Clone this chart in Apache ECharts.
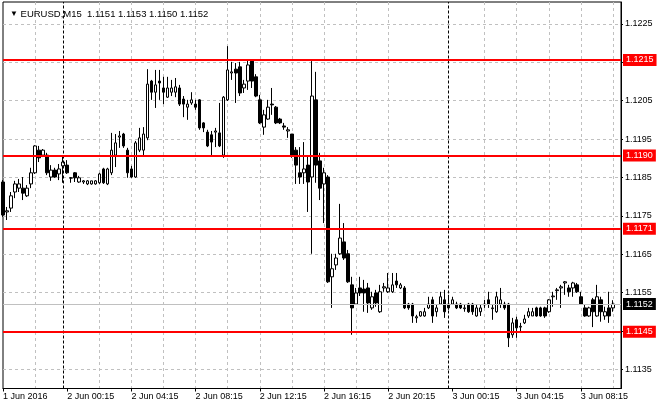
<!DOCTYPE html>
<html>
<head>
<meta charset="utf-8">
<script src="https://cdn.jsdelivr.net/npm/echarts@6/dist/echarts.min.js"></script>
<style>
  html, body { margin: 0; padding: 0; background: #fff; }
  #chart { width: 660px; height: 410px; }
</style>
</head>
<body>
<div id="chart"></div>
<script>
// EURUSD M15, 1 Jun 20:15 .. 3 Jun 10:15 (one value per bar)
const opens = [
  1.11838, 1.1176, 1.1177, 1.11812, 1.11822, 1.11822, 1.11802, 1.11833, 1.11862, 1.11921,
  1.11908, 1.11908, 1.11851, 1.11869, 1.11859, 1.1188, 1.11882, 1.11848, 1.11862, 1.11838,
  1.11838, 1.11833, 1.11833, 1.11833, 1.11836, 1.11872, 1.11833, 1.11862, 1.11908, 1.11955,
  1.11963, 1.11921, 1.11872, 1.11851, 1.11921, 1.11921, 1.11953, 1.12101, 1.12072, 1.12101,
  1.12083, 1.12059, 1.12072, 1.12072, 1.12083, 1.12054, 1.12033, 1.12044, 1.12041, 1.12052,
  1.11992, 1.11968, 1.11961, 1.11968, 1.11966, 1.11908, 1.12052, 1.12122, 1.12132, 1.12138,
  1.12083, 1.12101, 1.12153, 1.12112, 1.12052, 1.11981, 1.12002, 1.12041, 1.12033, 1.12002,
  1.11984, 1.11971, 1.11963, 1.11921, 1.11862, 1.11862, 1.11882, 1.11851, 1.12052, 1.11893,
  1.11833, 1.11851, 1.11591, 1.11622, 1.11651, 1.11682, 1.11651, 1.1157, 1.1152, 1.11562,
  1.11559, 1.11562, 1.1151, 1.11549, 1.115, 1.11562, 1.11552, 1.11552, 1.1158, 1.11562,
  1.11562, 1.1152, 1.1152, 1.11484, 1.11489, 1.11489, 1.1151, 1.11531, 1.115, 1.1152,
  1.11531, 1.1152, 1.1152, 1.1152, 1.1152, 1.11508, 1.1152, 1.1152, 1.11489, 1.115,
  1.11518, 1.11531, 1.11508, 1.115, 1.1152, 1.1152, 1.1152, 1.1144, 1.11479, 1.1146,
  1.11471, 1.11489, 1.11489, 1.1151, 1.1151, 1.1151, 1.115, 1.11539, 1.11555, 1.11562,
  1.11575, 1.11562, 1.11562, 1.1157, 1.11539, 1.1151, 1.11489, 1.11531, 1.11489, 1.11531,
  1.11489, 1.1151, 1.1151
];
const highs = [
  1.11843, 1.11773, 1.11812, 1.11841, 1.11846, 1.11851, 1.1183, 1.11875, 1.11934, 1.11932,
  1.11924, 1.11914, 1.11882, 1.11875, 1.11885, 1.11906, 1.11895, 1.11851, 1.11864, 1.11854,
  1.11843, 1.11843, 1.11841, 1.11843, 1.11862, 1.11875, 1.11875, 1.11966, 1.11963, 1.11971,
  1.11966, 1.11927, 1.1188, 1.11945, 1.11979, 1.11981, 1.12132, 1.12104, 1.1213, 1.1213,
  1.12112, 1.12112, 1.12104, 1.12109, 1.12091, 1.12062, 1.12052, 1.12072, 1.12052, 1.12054,
  1.11994, 1.11974, 1.11971, 1.11979, 1.12044, 1.12062, 1.12192, 1.12151, 1.12148, 1.12151,
  1.12104, 1.12156, 1.12156, 1.12119, 1.12065, 1.12026, 1.12052, 1.12083, 1.12036, 1.12005,
  1.11992, 1.11981, 1.11963, 1.11929, 1.11929, 1.11942, 1.11908, 1.12153, 1.12125, 1.11914,
  1.11875, 1.11856, 1.11651, 1.11651, 1.11781, 1.11731, 1.11661, 1.11591, 1.11562, 1.11591,
  1.11583, 1.11575, 1.11552, 1.11557, 1.1157, 1.11575, 1.11601, 1.11601, 1.11601, 1.11575,
  1.11567, 1.11523, 1.11523, 1.11492, 1.11502, 1.1151, 1.11539, 1.11539, 1.1152, 1.11552,
  1.11557, 1.11544, 1.11539, 1.11526, 1.11523, 1.1152, 1.11523, 1.11523, 1.11518, 1.11518,
  1.11531, 1.11552, 1.1152, 1.11552, 1.11562, 1.11526, 1.11523, 1.11484, 1.11487, 1.11471,
  1.11492, 1.1151, 1.1151, 1.11513, 1.11513, 1.11513, 1.11533, 1.11552, 1.11562, 1.1157,
  1.1158, 1.1157, 1.11578, 1.11575, 1.11552, 1.11518, 1.11513, 1.11536, 1.1157, 1.11539,
  1.11513, 1.11552, 1.1153
];
const lows = [
  1.11747, 1.11739, 1.1176, 1.11796, 1.11812, 1.11791, 1.11799, 1.11822, 1.11859, 1.1189,
  1.11903, 1.11856, 1.11841, 1.11849, 1.11843, 1.11836, 1.11859, 1.11836, 1.11838, 1.11836,
  1.11833, 1.1183, 1.11831, 1.11831, 1.11833, 1.11833, 1.1183, 1.11856, 1.11877, 1.11927,
  1.11927, 1.11849, 1.11849, 1.11849, 1.11916, 1.11908, 1.11947, 1.12052, 1.12031, 1.12052,
  1.12041, 1.12057, 1.12062, 1.12059, 1.12036, 1.12007, 1.12, 1.12039, 1.12026, 1.11974,
  1.11968, 1.11929, 1.11908, 1.11929, 1.11929, 1.11901, 1.12049, 1.12104, 1.12044, 1.12062,
  1.1207, 1.12078, 1.12083, 1.12059, 1.11989, 1.11961, 1.12, 1.12013, 1.11989, 1.11989,
  1.11974, 1.11953, 1.11901, 1.11833, 1.11833, 1.11833, 1.1176, 1.11651, 1.11836, 1.11791,
  1.11731, 1.11575, 1.1151, 1.11609, 1.11648, 1.11635, 1.11575, 1.1144, 1.11518, 1.11541,
  1.115, 1.11497, 1.11505, 1.11513, 1.11497, 1.11552, 1.11549, 1.11549, 1.11562, 1.11559,
  1.11507, 1.11505, 1.11471, 1.11471, 1.11487, 1.11487, 1.11507, 1.11471, 1.11487, 1.11518,
  1.11484, 1.11505, 1.11518, 1.11507, 1.11507, 1.115, 1.11497, 1.11492, 1.11487, 1.11489,
  1.1151, 1.1151, 1.11479, 1.11497, 1.1151, 1.11505, 1.11408, 1.11432, 1.11432, 1.11445,
  1.11468, 1.11484, 1.11489, 1.11487, 1.11487, 1.11484, 1.11497, 1.11513, 1.11531, 1.1151,
  1.11544, 1.11539, 1.11539, 1.11549, 1.11518, 1.11487, 1.11487, 1.1146, 1.11487, 1.11474,
  1.11479, 1.11471, 1.115
];
const closes = [
  1.11752, 1.11763, 1.11802, 1.11833, 1.11833, 1.11809, 1.11822, 1.11862, 1.11932, 1.11901,
  1.11921, 1.11862, 1.11869, 1.11851, 1.11872, 1.1189, 1.11862, 1.11849, 1.11849, 1.11849,
  1.11841, 1.11841, 1.11841, 1.11841, 1.11859, 1.11836, 1.11872, 1.11921, 1.1194, 1.11958,
  1.11932, 1.11862, 1.11851, 1.1194, 1.11953, 1.11963, 1.12093, 1.12072, 1.12091, 1.12096,
  1.12072, 1.12083, 1.12083, 1.12086, 1.12041, 1.12041, 1.12041, 1.12052, 1.12033, 1.11979,
  1.11979, 1.11932, 1.11942, 1.11971, 1.11932, 1.12059, 1.1213, 1.12125, 1.12122, 1.1207,
  1.12093, 1.12143, 1.12101, 1.12062, 1.11992, 1.12013, 1.12033, 1.12039, 1.11992, 1.11992,
  1.11981, 1.11974, 1.11908, 1.11882, 1.11851, 1.11872, 1.11838, 1.12062, 1.11882, 1.11822,
  1.11862, 1.11578, 1.11612, 1.1164, 1.11692, 1.1164, 1.11578, 1.1151, 1.11549, 1.11549,
  1.11549, 1.11523, 1.11539, 1.11523, 1.11552, 1.11565, 1.11562, 1.1157, 1.1157, 1.1157,
  1.1151, 1.1151, 1.11489, 1.11487, 1.115, 1.115, 1.1152, 1.11489, 1.1151, 1.11539,
  1.115, 1.1151, 1.11531, 1.1151, 1.1151, 1.1151, 1.115, 1.115, 1.1151, 1.1151,
  1.1152, 1.1152, 1.1151, 1.11539, 1.11531, 1.1151, 1.11432, 1.11471, 1.11458, 1.11462,
  1.11481, 1.115, 1.115, 1.11489, 1.11489, 1.11489, 1.11531, 1.11541, 1.11557, 1.11565,
  1.11578, 1.11552, 1.11575, 1.11552, 1.1152, 1.11489, 1.1151, 1.115, 1.11539, 1.115,
  1.115, 1.11489, 1.1152
];

// horizontal levels drawn on the chart and their price tags
const levelPrices = [1.12156, 1.11907, 1.11716, 1.11448];
const levelTags = ['1.1215', '1.1190', '1.1171', '1.1145'];

// axis ticks
const yTicks = [1.1135, 1.1145, 1.1155, 1.1165, 1.1175, 1.1185, 1.1195, 1.1205, 1.1215, 1.1225];
const xLabelIdx = [0, 16, 32, 48, 64, 80, 96, 112, 128, 144];
const xLabels = ['1 Jun 2016', '2 Jun 00:15', '2 Jun 04:15', '2 Jun 08:15', '2 Jun 12:15',
                 '2 Jun 16:15', '2 Jun 20:15', '3 Jun 00:15', '3 Jun 04:15', '3 Jun 08:15'];
const vGridIdx = [8, 24, 32, 40, 48, 56, 64, 72, 80, 88, 96, 120, 128, 136, 144, 152];
const daySepIdx = [15, 111];

const FONT = 'Liberation Sans';
const SLOTS = 155; // bars + empty space on the right

function fmt4(v) {
    return v.toFixed(5).slice(0, -1);
}

// category per 15 min slot
const slots = [];
const t0 = Date.UTC(2016, 5, 1, 20, 15);
for (let i = 0; i < SLOTS; i++) {
    const d = new Date(t0 + i * 15 * 60000);
    slots.push(d.toISOString().slice(0, 16).replace('T', ' '));
}

const candles = opens.map(function (o, i) {
    return [o, closes[i], lows[i], highs[i]];
});

const last = opens.length - 1;
const header = '{tri|▼} EURUSD,M15  ' +
    [opens[last], highs[last], lows[last], closes[last]].map(fmt4).join(' ');

const tagLabel = function (text, bg) {
    return {
        show: true,
        position: 'end',
        distance: 2,
        formatter: text,
        backgroundColor: bg,
        color: '#fff',
        padding: [2, 3, 1, 3],
        fontSize: 9,
        fontFamily: FONT
    };
};

const option = {
    animation: false,
    backgroundColor: '#fff',
    title: {
        text: header,
        left: 5,
        top: 4,
        textStyle: {
            fontSize: 9.5,
            fontWeight: 'normal',
            fontFamily: FONT,
            color: '#000',
            rich: { tri: { fontSize: 8, color: '#000' } }
        }
    },
    grid: {
        left: 3, right: 39, top: 2, bottom: 21.5,
        show: true, borderColor: '#000', borderWidth: 1, backgroundColor: '#fff',
        outerBoundsMode: 'none'
    },
    xAxis: {
        type: 'category',
        data: slots,
        boundaryGap: false,
        axisLine: { lineStyle: { color: '#000', width: 1 } },
        axisTick: {
            interval: function (i) { return xLabelIdx.indexOf(i) >= 0; },
            length: 3,
            lineStyle: { color: '#000' }
        },
        axisLabel: {
            interval: function (i) { return xLabelIdx.indexOf(i) >= 0; },
            formatter: function (v) { return xLabels[xLabelIdx.indexOf(slots.indexOf(v))] || ''; },
            align: 'left',
            margin: 4,
            fontSize: 9,
            fontFamily: FONT,
            color: '#000'
        },
        splitLine: {
            show: true,
            interval: function (i) { return vGridIdx.indexOf(i) >= 0; },
            lineStyle: { color: '#c0c0c0', type: [3, 3], width: 1 }
        }
    },
    yAxis: {
        type: 'value',
        position: 'right',
        min: 1.1130,
        max: 1.12307,
        axisLine: { show: true, lineStyle: { color: '#000' } },
        axisTick: { show: true, length: 2, customValues: yTicks, lineStyle: { color: '#000' } },
        axisLabel: {
            customValues: yTicks,
            formatter: fmt4,
            margin: 4,
            fontSize: 9,
            fontFamily: FONT,
            color: '#000'
        },
        splitLine: { show: true, lineStyle: { color: '#c0c0c0', type: [3, 3], width: 1 } }
    },
    series: [
        {
            // price line and day separators, under the bars
            type: 'line',
            data: [],
            z: 1,
            silent: true,
            markLine: {
                symbol: 'none',
                silent: true,
                animation: false,
                precision: 5,
                data: [{
                    yAxis: closes[last],
                    lineStyle: { color: '#c0c0c0', width: 1, type: 'solid' },
                    label: tagLabel(fmt4(closes[last]), '#000')
                }].concat(daySepIdx.map(function (i) {
                    return {
                        xAxis: i,
                        lineStyle: { color: '#000', width: 1, type: [3, 2] },
                        label: { show: false }
                    };
                }))
            }
        },
        {
            type: 'candlestick',
            data: candles,
            barWidth: 3,
            clip: false,
            z: 3,
            silent: true,
            itemStyle: {
                color: '#fff',
                color0: '#000',
                borderColor: '#000',
                borderColor0: '#000',
                borderWidth: 1
            },
            markLine: {
                symbol: 'none',
                silent: true,
                animation: false,
                precision: 5,
                data: levelPrices.map(function (p, i) {
                    return {
                        yAxis: p,
                        lineStyle: { color: '#ff0000', width: 2, type: 'solid' },
                        label: tagLabel(levelTags[i], '#ff0000')
                    };
                })
            }
        }
    ]
};

const chart = echarts.init(document.getElementById('chart'));
chart.setOption(option);
</script>
</body>
</html>
